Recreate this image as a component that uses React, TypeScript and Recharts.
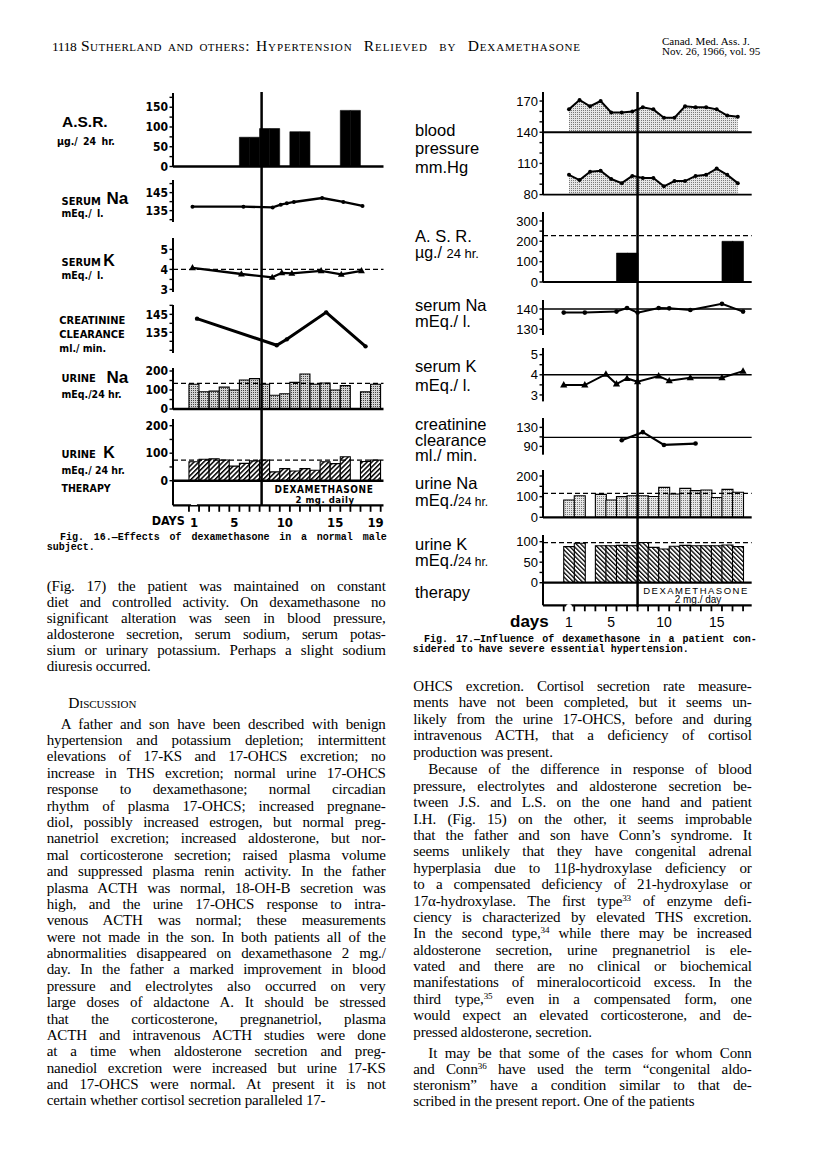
import React from "react";
import { ComposedChart, Bar, Line, Area, XAxis, YAxis, ReferenceLine } from "recharts";

// ---------- Fig. 16: normal male subject ----------
const f16Days = [1, 2, 3, 4, 5, 6, 7, 8, 9, 10, 11, 12, 13, 14, 15, 16, 17, 18, 19];
const f16Asr = [null, null, null, null, null, 74, 74, 96, 96, null, 88, 88, null, null, null, 142, 142, null, null];
const f16SerumNaDays = [0.85, 5.9, 8.8, 9.6, 10.2, 10.9, 13.7, 15.8, 17.7];
const f16SerumNa = [137.2, 137.2, 136.8, 138.3, 139.1, 139.8, 142, 139.8, 137.6];
const f16SerumKDays = [0.85, 5.7, 8.75, 9.7, 10.7, 13.6, 15.6, 17.6];
const f16SerumK = [4.08, 3.77, 3.6, 3.83, 3.8, 3.93, 3.75, 3.93];
const f16CreatDays = [1.3, 9.2, 10.2, 14.1, 18];
const f16Creat = [142.6, 127.8, 131.1, 146.1, 127.2];
const f16UrineNa = [130, 91, 94, 115, 100, 153, 160, 130, 72, 80, 140, 184, 130, 137, 100, 123, null, 90, 130];
const f16UrineK = [69, 78, 80, 75, 53, 63, 72, 75, 32, 44, 35, 44, 38, 69, 62, 87, null, 70, 75];
const f16SerumKRef = 4;
const f16UrineNaRef = 135;
const f16UrineKRef = 75;
const f16DexStart = 7.7;
const f16TickDays = [0.5, 1.5, 2.5, 3.5, 4.5, 5.5, 6.5, 7.5, 8.5, 9.5, 10.5, 11.5, 12.5, 13.5, 14.5, 15.5, 16.5, 17.5, 18.5, 19.5];
const f16DayLabels = [1, 5, 10, 15, 19];
const f16AsrTicks = [0, 25, 50, 75, 100, 125, 150, 175];
const f16AsrLabels = [0, 50, 100, 150];
const f16SerumNaTicks = [130, 135, 140, 145, 150];
const f16SerumNaLabels = [135, 145];
const f16SerumKTicks = [3, 3.5, 4, 4.5, 5];
const f16SerumKLabels = [3, 4, 5];
const f16CreatTicks = [125, 130, 135, 140, 145, 150];
const f16CreatLabels = [135, 145];
const f16UrineTicks = [0, 50, 100, 150, 200];
const f16UrineLabels = [0, 100, 200];

// ---------- Fig. 17: severe essential hypertension ----------
const f17Days = [1, 2, 3, 4, 5, 6, 7, 8, 9, 10, 11, 12, 13, 14, 15, 16, 17];
const f17Systolic = [162, 171, 165, 170, 159, 159, 160, 164, 162, 154, 154, 165, 164, 164, 162, 156, 155];
const f17Diastolic = [99, 94, 102, 103, 95, 91, 98, 96, 96, 88, 93, 93, 98, 99, 105, 99, 91];
const f17Asr = [null, null, null, null, null, 142, 142, null, null, null, null, null, null, null, null, 200, 200];
const f17SerumNaDays = [0.5, 2.5, 5.5, 6.5, 7.5, 9.5, 10.5, 12.5, 15.5, 17.5];
const f17SerumNa = [138.2, 138.2, 138.7, 140.5, 138.2, 140.5, 140.3, 139.5, 142.5, 138.7];
const f17SerumKDays = [0.5, 2.5, 4.5, 5.5, 6.5, 7.5, 9.5, 10.5, 12.5, 15.5, 17.5];
const f17SerumK = [3.49, 3.49, 4.03, 3.54, 3.82, 3.66, 3.94, 3.7, 3.85, 3.85, 4.18];
const f17CreatDays = [6, 8, 10, 13];
const f17Creat = [103, 120, 93, 96];
const f17UrineNa = [84, 104, null, 111, 84, 100, 104, 104, 101, 145, 113, 140, 129, 132, 96, 135, 121];
const f17UrineK = [88, 96, null, 90, 90, 91, 90, 98, 86, 82, 89, 91, 90, 90, 90, 92, 88];
const f17AsrRef = 228;
const f17SerumNaRef = 140;
const f17SerumKRef = 4;
const f17CreatRef = 109;
const f17UrineNaRef = 116;
const f17UrineKRef = 97.6;
const f17DexStart = 7.5;
const f17TickDays = [0.5, 1.5, 2.5, 3.5, 4.5, 5.5, 6.5, 7.5, 8.5, 9.5, 10.5, 11.5, 12.5, 13.5, 14.5, 15.5, 16.5, 17.5];
const f17DayLabels = [1, 5, 10, 15];
const f17BpTicks = [80, 90, 100, 110, 120, 130, 140, 150, 160, 170];
const f17BpLabels = [80, 110, 140, 170];
const f17AsrTicks = [0, 50, 100, 150, 200, 250, 300];
const f17AsrLabels = [0, 100, 200, 300];
const f17SerumNaTicks = [130, 135, 140];
const f17SerumNaLabels = [130, 140];
const f17SerumKTicks = [3, 3.5, 4, 4.5, 5];
const f17SerumKLabels = [3, 4, 5];
const f17CreatTicks = [90, 110, 130];
const f17CreatLabels = [90, 130];
const f17UrineNaTicks = [0, 50, 100, 150, 200];
const f17UrineNaLabels = [0, 100, 200];
const f17UrineKTicks = [0, 25, 50, 75, 100];
const f17UrineKLabels = [0, 50, 100];

// ---------- page text ----------
const paraFig17 = [
  "(Fig. 17) the patient was maintained on constant",
  "diet and controlled activity. On dexamethasone no",
  "significant alteration was seen in blood pressure,",
  "aldosterone secretion, serum sodium, serum potas-",
  "sium or urinary potassium. Perhaps a slight sodium",
  "diuresis occurred.",
];
const paraDiscussion = [
  "A father and son have been described with benign",
  "hypertension and potassium depletion; intermittent",
  "elevations of 17-KS and 17-OHCS excretion; no",
  "increase in THS excretion; normal urine 17-OHCS",
  "response to dexamethasone; normal circadian",
  "rhythm of plasma 17-OHCS; increased pregnane-",
  "diol, possibly increased estrogen, but normal preg-",
  "nanetriol excretion; increased aldosterone, but nor-",
  "mal corticosterone secretion; raised plasma volume",
  "and suppressed plasma renin activity. In the father",
  "plasma ACTH was normal, 18-OH-B secretion was",
  "high, and the urine 17-OHCS response to intra-",
  "venous ACTH was normal; these measurements",
  "were not made in the son. In both patients all of the",
  "abnormalities disappeared on dexamethasone 2 mg./",
  "day. In the father a marked improvement in blood",
  "pressure and electrolytes also occurred on very",
  "large doses of aldactone A. It should be stressed",
  "that the corticosterone, pregnanetriol, plasma",
  "ACTH and intravenous ACTH studies were done",
  "at a time when aldosterone secretion and preg-",
  "nanediol excretion were increased but urine 17-KS",
  "and 17-OHCS were normal. At present it is not",
  "certain whether cortisol secretion paralleled 17-",
];
const paraRight1 = [
  "OHCS excretion. Cortisol secretion rate measure-",
  "ments have not been completed, but it seems un-",
  "likely from the urine 17-OHCS, before and during",
  "intravenous ACTH, that a deficiency of cortisol",
  "production was present.",
];
const paraRight2 = [
  "Because of the difference in response of blood",
  "pressure, electrolytes and aldosterone secretion be-",
  "tween J.S. and L.S. on the one hand and patient",
  "I.H. (Fig. 15) on the other, it seems improbable",
  "that the father and son have Conn\u2019s syndrome. It",
  "seems unlikely that they have congenital adrenal",
  "hyperplasia due to 11\u03b2-hydroxylase deficiency or",
  "to a compensated deficiency of 21-hydroxylase or",
  "17\u03b1-hydroxylase. The first type^33 of enzyme defi-",
  "ciency is characterized by elevated THS excretion.",
  "In the second type,^34 while there may be increased",
  "aldosterone secretion, urine pregnanetriol is ele-",
  "vated and there are no clinical or biochemical",
  "manifestations of mineralocorticoid excess. In the",
  "third type,^35 even in a compensated form, one",
  "would expect an elevated corticosterone, and de-",
  "pressed aldosterone, secretion.",
];
const paraRight3 = [
  "It may be that some of the cases for whom Conn",
  "and Conn^36 have used the term \u201ccongenital aldo-",
  "steronism\u201d have a condition similar to that de-",
  "scribed in the present report. One of the patients",
];

// ---------- layout ----------
const SERIF = "'Liberation Serif', 'Times New Roman', serif";
const SANS = "'Liberation Sans', Arial, sans-serif";
const NARROW = "'Liberation Sans Narrow', 'Arial Narrow', 'DejaVu Sans Condensed', 'Liberation Sans', sans-serif";
const MONO = "'Liberation Mono', 'DejaVu Sans Mono', monospace";

const F16 = { axisX: 172.5, plotW: 210.5, day1X: 193.5, dayPx: 10.09 };
const F17 = { axisX: 543.3, plotW: 208.7, day1X: 569.3, dayPx: 10.55 };
const Y_W = 30;
const PAD = 8;
const TICK16 = { fontSize: 12, fontFamily: NARROW, fontWeight: 700, fill: "#000" };
const TICK17 = { fontSize: 13, fontFamily: SANS, fill: "#000" };
const DAY16 = { fontSize: 13, fontFamily: NARROW, fontWeight: 700, fill: "#000" };
const DAY17 = { fontSize: 14, fontFamily: SANS, fill: "#000" };

function numDomain(f: any) {
  return [1 - (f.day1X - f.axisX) / f.dayPx, 1 + (f.axisX + f.plotW - f.day1X) / f.dayPx];
}
function catPadding(f: any, n: number) {
  const start = f.day1X - f.dayPx / 2;
  return { left: start - f.axisX, right: f.axisX + f.plotW - (start + n * f.dayPx) };
}
const pts = (days: number[], vals: (number | null)[]) => days.map((day, i) => ({ day, v: vals[i] }));

function yAxisEl(domain: number[], ticks: number[], labels: number[], font: any) {
  return (
    <YAxis
      type="number"
      width={Y_W}
      domain={domain}
      allowDataOverflow
      ticks={ticks}
      interval={0}
      tickFormatter={(v: number) => (labels.includes(v) ? String(v) : "")}
      axisLine={{ stroke: "#000", strokeWidth: 2 }}
      tickLine={{ stroke: "#000", strokeWidth: 1.4 }}
      tickSize={3.5}
      tickMargin={1.5}
      tick={font}
    />
  );
}
const numAxis = (f: any) => <XAxis dataKey="day" type="number" domain={numDomain(f)} allowDataOverflow hide />;
const catAxis = (f: any, n: number) => <XAxis dataKey="day" type="category" hide padding={catPadding(f, n)} />;

function triangleDot(half: number) {
  return (p: any) => {
    if (p.cx == null || p.cy == null) return <g key={p.index} />;
    return (
      <polygon
        key={p.index}
        points={`${p.cx},${p.cy - half * 1.1} ${p.cx - half},${p.cy + half * 0.7} ${p.cx + half},${p.cy + half * 0.7}`}
        fill="#000"
      />
    );
  };
}

function dayTick(labels: number[], font: any, len: number) {
  return (p: any) => {
    const v = p.payload.value;
    if (Number.isInteger(v)) {
      if (!labels.includes(v)) return <g key={p.index} />;
      return (
        <text key={p.index} x={p.x} y={p.y + 17} textAnchor="middle" dominantBaseline="central" {...font}>
          {v}
        </text>
      );
    }
    return <line key={p.index} x1={p.x} x2={p.x} y1={p.y} y2={p.y + len} stroke="#000" strokeWidth={1.8} />;
  };
}

function Panel({ f, top, bottom, data, axisH = 0, children }: any) {
  return (
    <div style={{ position: "absolute", left: f.axisX - Y_W, top: top - PAD }}>
      <ComposedChart
        width={Y_W + f.plotW + PAD}
        height={bottom - top + 2 * PAD + axisH}
        data={data}
        margin={{ top: PAD, right: PAD, bottom: PAD, left: 0 }}
        barCategoryGap={0}
      >
        {children}
      </ComposedChart>
    </div>
  );
}

function DexLine({ f, top, bottom, day }: any) {
  return (
    <div style={{ position: "absolute", left: f.axisX, top, pointerEvents: "none" }}>
      <ComposedChart width={f.plotW} height={bottom - top} data={[{ day: 1, v: 0 }]} margin={{ top: 0, right: 0, bottom: 0, left: 0 }}>
        {numAxis(f)}
        <YAxis hide type="number" domain={[0, 1]} allowDataOverflow />
        <Line dataKey="v" stroke="none" dot={false} isAnimationActive={false} />
        <ReferenceLine x={day} stroke="#000" strokeWidth={2.5} ifOverflow="visible" />
      </ComposedChart>
    </div>
  );
}

function Txt({ x, y, size, family = SANS, weight = 400, anchor = "start", ls = 0, ws = 0, variant, children }: any) {
  return (
    <div
      style={{
        position: "absolute",
        left: x,
        top: y - size * 0.44,
        fontSize: size,
        lineHeight: `${size * 0.85}px`,
        fontFamily: family,
        fontWeight: weight,
        letterSpacing: ls,
        wordSpacing: ws,
        fontVariant: variant,
        whiteSpace: "nowrap",
        color: "#000",
        transform: anchor === "middle" ? "translateX(-50%)" : undefined,
      }}
    >
      {children}
    </div>
  );
}

// several stacked label lines in one block, centre of first line at y
function Block({ x, y, size, lh, lines }: any) {
  return (
    <div
      style={{
        position: "absolute",
        left: x,
        top: y - (lh - size * 1.117) / 2 - size * 0.905 + size * 0.33,
        fontSize: size,
        lineHeight: `${lh}px`,
        fontFamily: SANS,
        whiteSpace: "nowrap",
        color: "#000",
      }}
    >
      {lines.map((t: string, i: number) => (
        <div key={i}>{t}</div>
      ))}
    </div>
  );
}

function rich(s: string) {
  const parts = s.split(/\^(\d+)/);
  return parts.map((p, i) =>
    i % 2 ? (
      <sup key={i} style={{ fontSize: "0.6em", lineHeight: 0, verticalAlign: "0.55em" }}>
        {p}
      </sup>
    ) : (
      p
    )
  );
}

function JLine({ x, y, w, size, family, weight = 400, last = false, variant, ls = 0, children }: any) {
  return (
    <div
      style={{
        position: "absolute",
        left: x,
        top: y - size * 0.62,
        width: w,
        fontSize: size,
        lineHeight: `${size * 1.05}px`,
        fontFamily: family,
        fontWeight: weight,
        fontVariant: variant,
        letterSpacing: ls,
        whiteSpace: "nowrap",
        textAlign: last ? "left" : "justify",
        textAlignLast: last ? "left" : "justify",
        color: "#000",
      }}
    >
      {children}
    </div>
  );
}

function Paragraph({ lines, x, w, y0, step, indent = 0 }: any) {
  return (
    <>
      {lines.map((t: string, i: number) => (
        <JLine
          key={i}
          x={x + (i === 0 ? indent : 0)}
          y={y0 + i * step}
          w={w - (i === 0 ? indent : 0)}
          size={15}
          ls={-0.15}
          family={SERIF}
          last={i === lines.length - 1}
        >
          {rich(t)}
        </JLine>
      ))}
    </>
  );
}

function Patterns() {
  return (
    <svg width={0} height={0} style={{ position: "absolute" }}>
      <defs>
        <pattern id="dots16" width={2} height={2} patternUnits="userSpaceOnUse">
          <rect width={2} height={2} fill="#d4d4d4" />
          <rect width={1} height={1} fill="#444" />
        </pattern>
        <pattern id="dots17" width={2} height={2} patternUnits="userSpaceOnUse">
          <rect width={2} height={2} fill="#e6e6e6" />
          <rect width={1} height={1} fill="#777" />
        </pattern>
        <pattern id="hatch16" width={3.4} height={3.4} patternUnits="userSpaceOnUse" patternTransform="rotate(45)">
          <rect width={3.4} height={3.4} fill="#fff" />
          <rect width={1.5} height={3.4} fill="#000" />
        </pattern>
        <pattern id="hatch17" width={3.2} height={3.2} patternUnits="userSpaceOnUse" patternTransform="rotate(-45)">
          <rect width={3.2} height={3.2} fill="#fff" />
          <rect width={1.3} height={3.2} fill="#000" />
        </pattern>
      </defs>
    </svg>
  );
}

function Figure16() {
  const f = F16;
  const n = f16Days.length;
  const asr = pts(f16Days, f16Asr);
  const uNa = pts(f16Days, f16UrineNa);
  const uK = pts(f16Days, f16UrineK);
  const sNa = pts(f16SerumNaDays, f16SerumNa);
  const sK = pts(f16SerumKDays, f16SerumK);
  const cr = pts(f16CreatDays, f16Creat);
  const dash = { stroke: "#000", strokeWidth: 1.3, strokeDasharray: "5 3" };
  const cap = { family: NARROW, weight: 700 };
  return (
    <>
      <Panel f={f} top={93} bottom={166.5} data={asr}>
        {catAxis(f, n)}
        {yAxisEl([0, 186], f16AsrTicks, f16AsrLabels, TICK16)}
        <Bar dataKey="v" fill="#000" stroke="#000" strokeWidth={0.6} isAnimationActive={false} />
        <ReferenceLine y={0} stroke="#000" strokeWidth={2.5} />
      </Panel>
      <Panel f={f} top={180} bottom={222} data={sNa}>
        {numAxis(f)}
        {yAxisEl([128.7, 152], f16SerumNaTicks, f16SerumNaLabels, TICK16)}
        <Line dataKey="v" stroke="#000" strokeWidth={2.3} dot={{ r: 2, fill: "#000", stroke: "none" }} isAnimationActive={false} />
      </Panel>
      <Panel f={f} top={238} bottom={292} data={sK}>
        {numAxis(f)}
        {yAxisEl([2.87, 5.57], f16SerumKTicks, f16SerumKLabels, TICK16)}
        <ReferenceLine y={f16SerumKRef} {...dash} />
        <Line dataKey="v" stroke="#000" strokeWidth={2.3} dot={triangleDot(3.4)} isAnimationActive={false} />
      </Panel>
      <Panel f={f} top={305} bottom={353} data={cr}>
        {numAxis(f)}
        {yAxisEl([123.5, 150.2], f16CreatTicks, f16CreatLabels, TICK16)}
        <Line dataKey="v" stroke="#000" strokeWidth={3} dot={{ r: 2.2, fill: "#000", stroke: "none" }} isAnimationActive={false} />
      </Panel>
      <Panel f={f} top={368} bottom={409} data={uNa}>
        {catAxis(f, n)}
        {yAxisEl([0, 215.8], f16UrineTicks, f16UrineLabels, TICK16)}
        <Bar dataKey="v" fill="url(#dots16)" stroke="#000" strokeWidth={1.1} isAnimationActive={false} />
        <ReferenceLine y={f16UrineNaRef} {...dash} />
        <ReferenceLine y={0} stroke="#000" strokeWidth={2.5} />
      </Panel>
      <Panel f={f} top={419} bottom={480.7} data={uK}>
        {catAxis(f, n)}
        {yAxisEl([0, 224.4], f16UrineTicks, f16UrineLabels, TICK16)}
        <Bar dataKey="v" fill="url(#hatch16)" stroke="#000" strokeWidth={1.1} isAnimationActive={false} />
        <ReferenceLine y={f16UrineKRef} {...dash} />
        <ReferenceLine y={0} stroke="#000" strokeWidth={2.5} />
      </Panel>
      <Panel f={f} top={480.7} bottom={505} data={f16Days.map((day) => ({ day }))} axisH={30}>
        <XAxis
          dataKey="day"
          type="number"
          domain={numDomain(f)}
          allowDataOverflow
          ticks={[...f16TickDays, ...f16DayLabels]}
          interval={0}
          height={30}
          tickSize={0}
          tickMargin={0}
          tickLine={false}
          axisLine={{ stroke: "#000", strokeWidth: 2.2 }}
          tick={dayTick(f16DayLabels, DAY16, 6.5)}
        />
        <YAxis type="number" width={Y_W} domain={[0, 1]} allowDataOverflow tick={false} tickLine={false} axisLine={{ stroke: "#000", strokeWidth: 2 }} />
      </Panel>
      <DexLine f={f} top={92} bottom={505} day={f16DexStart} />

      <Txt x={62} y={121.7} size={15.5} weight={700}>A.S.R.</Txt>
      <Txt x={57} y={141.7} size={10.5} {...cap} ws={2}>{"\u00b5g./ 24 hr."}</Txt>
      <Txt x={61.5} y={201.7} size={11} {...cap}>SERUM</Txt>
      <Txt x={106.5} y={199.3} size={17} weight={700}>Na</Txt>
      <Txt x={61.5} y={214} size={10.5} {...cap} ws={2}>mEq./ l.</Txt>
      <Txt x={61.5} y={263.3} size={11} {...cap}>SERUM</Txt>
      <Txt x={103.3} y={260.7} size={16} weight={700}>K</Txt>
      <Txt x={61.5} y={275.5} size={10.5} {...cap} ws={2}>mEq./ l.</Txt>
      <Txt x={59.3} y={320.7} size={11} {...cap}>CREATININE</Txt>
      <Txt x={59.3} y={335} size={11} {...cap}>CLEARANCE</Txt>
      <Txt x={59.3} y={348.3} size={10.5} {...cap}>ml./ min.</Txt>
      <Txt x={61.5} y={379.3} size={11} {...cap}>URINE</Txt>
      <Txt x={106.5} y={378.3} size={17} weight={700}>Na</Txt>
      <Txt x={61.5} y={395} size={10.5} {...cap}>mEq./24 hr.</Txt>
      <Txt x={61.5} y={455} size={11} {...cap}>URINE</Txt>
      <Txt x={103.3} y={453.3} size={16} weight={700}>K</Txt>
      <Txt x={61.5} y={470.7} size={10.5} {...cap}>mEq./ 24 hr.</Txt>
      <Txt x={61.5} y={489} size={10.5} {...cap}>THERAPY</Txt>
      <Txt x={151.7} y={521.7} size={12.5} {...cap}>DAYS</Txt>
      <Txt x={324} y={490.5} size={10} {...cap} ls={0.6} anchor="middle">DEXAMETHASONE</Txt>
      <Txt x={325} y={500} size={9.5} {...cap} ls={0.5} anchor="middle">2 mg. daily</Txt>

      <JLine x={60} y={539.3} w={326.7} size={10} family={MONO} weight={700}>
        {"Fig. 16.\u2014Effects of dexamethasone in a normal male"}
      </JLine>
      <JLine x={46.7} y={549.5} w={326.7} size={10} family={MONO} weight={700} last>
        subject.
      </JLine>
    </>
  );
}

function Figure17() {
  const f = F17;
  const n = f17Days.length;
  const bp = f17Days.map((day, i) => ({ day, sys: f17Systolic[i], dia: f17Diastolic[i] }));
  const asr = pts(f17Days, f17Asr);
  const uNa = pts(f17Days, f17UrineNa);
  const uK = pts(f17Days, f17UrineK);
  const sNa = pts(f17SerumNaDays, f17SerumNa);
  const sK = pts(f17SerumKDays, f17SerumK);
  const cr = pts(f17CreatDays, f17Creat);
  const dash = { stroke: "#000", strokeWidth: 1.2, strokeDasharray: "5 3" };
  const solid = { stroke: "#000", strokeWidth: 1.4 };
  const lab = { size: 16.5 };
  return (
    <>
      <Panel f={f} top={91.7} bottom={194.3} data={bp}>
        {numAxis(f)}
        {yAxisEl([80, 178.7], f17BpTicks, f17BpLabels, TICK17)}
        <Area dataKey="sys" baseValue={140} type="linear" fill="url(#dots17)" fillOpacity={1} stroke="#000" strokeWidth={2}
          dot={{ r: 2, fill: "#000", stroke: "none" }} isAnimationActive={false} />
        <Area dataKey="dia" baseValue={80} type="linear" fill="url(#dots17)" fillOpacity={1} stroke="#000" strokeWidth={2}
          dot={{ r: 2, fill: "#000", stroke: "none" }} isAnimationActive={false} />
        <ReferenceLine y={140} {...solid} strokeWidth={1.8} />
        <ReferenceLine y={80} {...solid} strokeWidth={1.8} />
      </Panel>
      <Panel f={f} top={211.7} bottom={281.7} data={asr}>
        {catAxis(f, n)}
        {yAxisEl([0, 344], f17AsrTicks, f17AsrLabels, TICK17)}
        <Bar dataKey="v" fill="#000" stroke="#000" strokeWidth={0.6} isAnimationActive={false} />
        <ReferenceLine y={f17AsrRef} {...dash} />
        <ReferenceLine y={0} stroke="#000" strokeWidth={2.2} />
      </Panel>
      <Panel f={f} top={300} bottom={335} data={sNa}>
        {numAxis(f)}
        {yAxisEl([127.2, 144.4], f17SerumNaTicks, f17SerumNaLabels, TICK17)}
        <ReferenceLine y={f17SerumNaRef} {...solid} />
        <Line dataKey="v" stroke="#000" strokeWidth={2} dot={{ r: 2.3, fill: "#000", stroke: "none" }} isAnimationActive={false} />
      </Panel>
      <Panel f={f} top={348.3} bottom={401.7} data={sK}>
        {numAxis(f)}
        {yAxisEl([2.68, 5.33], f17SerumKTicks, f17SerumKLabels, TICK17)}
        <ReferenceLine y={f17SerumKRef} {...solid} />
        <Line dataKey="v" stroke="#000" strokeWidth={2} dot={triangleDot(3.6)} isAnimationActive={false} />
      </Panel>
      <Panel f={f} top={418.3} bottom={455} data={cr}>
        {numAxis(f)}
        {yAxisEl([72.5, 149.8], f17CreatTicks, f17CreatLabels, TICK17)}
        <ReferenceLine y={f17CreatRef} {...solid} />
        <Line dataKey="v" stroke="#000" strokeWidth={2.2} dot={{ r: 2.3, fill: "#000", stroke: "none" }} isAnimationActive={false} />
      </Panel>
      <Panel f={f} top={470} bottom={517.3} data={uNa}>
        {catAxis(f, n)}
        {yAxisEl([0, 229], f17UrineNaTicks, f17UrineNaLabels, TICK17)}
        <Bar dataKey="v" fill="url(#dots17)" stroke="#000" strokeWidth={1.1} isAnimationActive={false} />
        <ReferenceLine y={f17UrineNaRef} {...dash} />
        <ReferenceLine y={0} stroke="#000" strokeWidth={2.2} />
      </Panel>
      <Panel f={f} top={535} bottom={582.7} data={uK}>
        {catAxis(f, n)}
        {yAxisEl([0, 116.3], f17UrineKTicks, f17UrineKLabels, TICK17)}
        <Bar dataKey="v" fill="url(#hatch17)" stroke="#000" strokeWidth={1.1} isAnimationActive={false} />
        <ReferenceLine y={f17UrineKRef} {...dash} />
        <ReferenceLine y={0} stroke="#000" strokeWidth={2.2} />
      </Panel>
      <Panel f={f} top={582.7} bottom={605} data={f17Days.map((day) => ({ day }))} axisH={30}>
        <XAxis
          dataKey="day"
          type="number"
          domain={numDomain(f)}
          allowDataOverflow
          ticks={[...f17TickDays, ...f17DayLabels]}
          interval={0}
          height={30}
          tickSize={0}
          tickMargin={0}
          tickLine={false}
          axisLine={{ stroke: "#000", strokeWidth: 2.2 }}
          tick={dayTick(f17DayLabels, DAY17, 6)}
        />
        <YAxis type="number" width={Y_W} domain={[0, 1]} allowDataOverflow tick={false} tickLine={false} axisLine={{ stroke: "#000", strokeWidth: 2 }} />
      </Panel>
      <DexLine f={f} top={92} bottom={607} day={f17DexStart} />

      <Txt x={415} y={130} {...lab}>blood</Txt>
      <Txt x={415} y={148} {...lab}>pressure</Txt>
      <Txt x={415} y={167.3} {...lab}>mm.Hg</Txt>
      <Txt x={415} y={236.7} {...lab}>A. S. R.</Txt>
      <Txt x={415} y={253.3} size={16}>
        {"\u00b5g./ "}
        <span style={{ fontSize: 13 }}>24 hr.</span>
      </Txt>
      <Txt x={415} y={305} {...lab}>serum Na</Txt>
      <Txt x={415} y={321} {...lab}>mEq./ l.</Txt>
      <Txt x={415} y={366.7} {...lab}>serum K</Txt>
      <Txt x={415} y={385} {...lab}>mEq./ l.</Txt>
      <Block x={415} y={425} size={16.5} lh={15.85} lines={["creatinine", "clearance", "ml./ min."]} />
      <Txt x={415} y={483.3} {...lab}>urine Na</Txt>
      <Txt x={415} y={500.7} {...lab}>
        mEq./<span style={{ fontSize: 12 }}>24 hr.</span>
      </Txt>
      <Txt x={415} y={544} {...lab}>urine K</Txt>
      <Txt x={415} y={560.7} {...lab}>
        mEq./<span style={{ fontSize: 12 }}>24 hr.</span>
      </Txt>
      <Txt x={415} y={592.7} {...lab}>therapy</Txt>
      <Txt x={510} y={622.7} size={17} weight={700}>days</Txt>
      <Txt x={696} y={591.2} size={9.5} ls={1.5} anchor="middle">DEXAMETHASONE</Txt>
      <Txt x={698} y={600.8} size={10} anchor="middle">2 mg./ day</Txt>

      <JLine x={424} y={641.3} w={332.7} size={10} family={MONO} weight={700}>
        {"Fig. 17.\u2014Influence of dexamethasone in a patient con-"}
      </JLine>
      <JLine x={412.7} y={650.7} w={332.7} size={10} family={MONO} weight={700} last>
        sidered to have severe essential hypertension.
      </JLine>
    </>
  );
}

function Header() {
  return (
    <>
      <Txt x={52} y={47} size={13.5} family={SERIF} ls={-0.4}>1118</Txt>
      <JLine x={81} y={48} w={169} size={15.5} family={SERIF} variant="small-caps" ls={0.5}>
        Sutherland and others:
      </JLine>
      <JLine x={256} y={48} w={325} size={15.5} family={SERIF} variant="small-caps" ls={0.9}>
        Hypertension Relieved by Dexamethasone
      </JLine>
      <Txt x={662} y={41.5} size={11} family={SERIF}>Canad. Med. Ass. J.</Txt>
      <Txt x={662} y={51.5} size={11} family={SERIF}>Nov. 26, 1966, vol. 95</Txt>
    </>
  );
}

function BodyText() {
  return (
    <>
      <Paragraph lines={paraFig17} x={46.7} w={339} y0={588.3} step={16} />
      <Txt x={68.3} y={702.7} size={15.5} family={SERIF} variant="small-caps">Discussion</Txt>
      <Paragraph lines={paraDiscussion} x={46.7} w={339} y0={726} step={16.38} indent={14} />
      <Paragraph lines={paraRight1} x={413.3} w={338.4} y0={688.3} step={16.42} />
      <Paragraph lines={paraRight2} x={413.3} w={338.4} y0={771.7} step={16.39} indent={15} />
      <Paragraph lines={paraRight3} x={413.3} w={338.4} y0={1055} step={16.1} indent={15} />
    </>
  );
}

export default function App() {
  return (
    <div style={{ position: "absolute", left: 0, top: 0, width: 816, height: 1152, background: "#fff", overflow: "hidden" }}>
      <Patterns />
      <Header />
      <Figure16 />
      <Figure17 />
      <BodyText />
    </div>
  );
}
